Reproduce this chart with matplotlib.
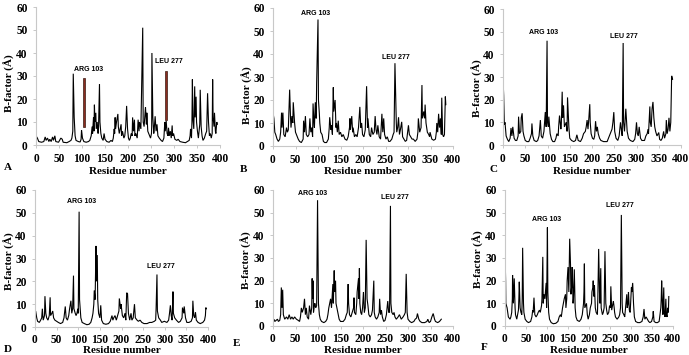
import matplotlib
matplotlib.use("Agg")
import matplotlib.pyplot as plt

# ---------------- data (residue number, B-factor) ----------------
xA = [0,3,6,12,17,20,22,25,28,30,33,36,38,41,43,49,54,57,59,67,72,76,78,80,81,83,85,87,92,96,98,99,101,104,109,114,117,120,122,123,125,126,127,128,130,131,133,135,136,138,139,141,143,146,148,150,154,159,163,166,168,170,171,172,173,175,178,179,181,183,185,186,188,191,193,195,197,199,201,203,205,207,209,210,212,214,215,217,220,222,224,225,228,232,233,235,238,240,241,243,245,247,249,251,251.5,252,254,256,257,259,261,263,265,268,272,275,278,280,281,283,285,287,288,290,292,294,296,297,299,302,306,309,313,319,325,329,333,335,336,338,339,340,341,343,345,346,348,349,351,353,356,357,359,361,363,366,369,371,373,375,377,379,381,383,384,385,387,388,390,391,393,394]
yA = [4,3,1.5,1.2,1.5,3.5,2,3,1.5,2.5,1.5,3.5,2,4,1.5,1.2,3,2.5,1.2,1,1.5,2,3,6,31,12,4,2,1.5,1.3,2.5,6.5,3,1.5,1.2,1.5,2,4,8,5,12,6,17.5,10,14,7,10,5,8,26.5,10,5,3,2,5,2.5,1.5,1.2,2,1.5,3,7,5,12,7,10,13.5,8,5,7,9,4,6,3,4,8,17,7,3,2,3,5,4,12,6,11,4,5,3,11,6,10,7,51,10,8,16.5,9,14,6,5,4,3,5,8,40,12,5,7,12.5,6,9,4,3,2,1.5,3,10,6,10.5,5,4,7.5,4,6,3,8.5,4,5,2.5,2,2.5,1.5,1.2,1,1.5,2,4,7,3,10,28.5,12,7,25.5,12,21,10,6,3,9,24,8,4,2,3,5,6,22.5,10,4,5,3,5,28.5,12,8,14,6,5,10,9]

xB = [0,2,4,6,9,12,15,17,19,20,22,24,27,30,32,34,37,39,40,42,44,45,48,50,52,56,59,63,67,68,70,72,74,77,80,82,84,86,88,89,91,92,94,96,97,100,101,103,104,106,109,112,115,119,123,125,126,129,130,132,134,135,138,140,141,143,145,147,150,153,156,160,164,167,170,171,172,175,177,178,181,184,187,190,193,195,197,199,202,205,208,210,211,214,217,219,222,225,227,229,231,233,236,239,242,244,246,248,251,254,257,260,264,267,269,271,274,275,277,279,281,283,286,288,291,294,297,301,303,306,309,312,316,320,322,323,326,329,331,332,335,337,338,340,343,346,348,349,353,357,361,363,364,366,368,370,372,374,375,377,379,381,383,384]
yB = [14.5,12,6,5,3,2,3,6,14.5,8,14.5,5,4,8,6,7,24.5,12,8,13,10,19,10,6,5,3,2,1.5,3,11,6,13,5,4,5,12,6,8,4,18.5,10,8,19,12,27.5,55,20,14,10,6,5,2,1.5,1.5,3,8,12.5,7,9,5,25.5,15,20,8,10,6,11,5,6,4,5,3,2.5,4,8,12,7,13,6,8,4,5,4,8,17,8,10,5,4,7,26,8,12,5,4,8,5,6,13,7,5,9,4,3,14,6,12,5,3,4,2,2,3,5,6,36,10,6,8,12.5,5,7,10.5,4,3,2,2.5,9,5,4,3,3,2,3,6,12,6,8,26.5,12,15,12,18,10,6,5,4,6,3,2.5,3,6,10,6,14,8,12,5,21,5,4,5,21.5,18]

xC = [0,1.5,3,4.5,7,10,13,16,18,20,22,25,28,31,34,35,37,40,41,43,45,47,50,54,58,61,64,65,67,70,75,78,81,84,86,89,92,95,97,99,100,102,103,106,109,112,116,119,121,124,125,127,130,131,133,134,136,138,140,142,144,145,148,150,154,159,163,166,169,174,178,181,185,187,189,191,193,195,196,198,201,204,206,208,210,212,214,217,220,226,234,237,241,245,247,249,251,254,258,261,264,267,268,270,271,273,276,279,282,286,292,296,298,300,302,304,306,309,312,318,321,324,326,327,330,331,333,335,337,339,341,343,346,350,352,355,358,361,363,366,367,369,371,373,375,377,379,381]
yC = [29.5,22,9,10,4,2.5,1.5,3,7.5,4,8,3,2,2,4,12.5,5,6,12,14,6,4,2,1.5,1.5,3,5,9.5,4,2,1.5,2,4,11,4,3,6,14.5,8,46,10,8,12.5,5,2.5,1.5,1.5,3,5,4,8,13,7,9,23.5,12,17.5,8,9,10,6,21,8,3,2,1.5,2,4.5,2,1.5,3,5,6,8,11,7,12,18,10,5,3,2.5,4,10.5,6,8,5,3,2,1.5,1.5,3,5,7,10,14.5,6,3,2,4,10,5,4,45,10,6,16,6,3,2,1.5,2.5,5,10,5,4,8,3,2,2,4,5,7,5,17,10,8,16,19,12,8,6,4,5.5,2.5,2,3,6,3,5,11,5,7,12,6,10,30.5,29]

xD = [0,1.5,4,6,10,13,15.5,17,19,22,23,25,27,30,33,35,36,39,41,43,46,50,54,59,64,67,70,72,75,78,80,83,85,87,89,90,93,95,97,99,100,102,103,106,109,114,120,125,129,132,134,136,137,139,141,142,144,145,147,150,152,154,158,164,170,174,178,180,182,185,188,191,194,195,198,199,202,205,208,210,212,214,216,219,222,224,227,230,232,236,239,243,247,252,259,265,270,276,279,280,282,283,286,290,293,299,305,309,311,313,315,317,319,320,323,327,332,336,340,341,344,345,348,351,356,361,364,365,367,369,371,373,377,382,388,392,394,395,396]
yD = [5,7,4,2.5,2,3,4,8,3,5,13.5,6,4,3,5,13,5,6,7,4,3,2.5,2,1.5,2,4,9,4,3,5,8,11.5,6,8,22.5,8,6,5,6,8,6,50.5,12,4,2,1.5,1,1.2,2,4,6,10,16,12,35.5,20,31.5,12,6,4,9.5,3,1.5,1.2,1.5,2.5,5,3,4,5,3,5,7,12.5,8,10,5,4,6,3,15,14.5,6,3,6,3,4,10,4,3,2.5,3,2,1.5,1.5,2,2,2.5,3,8,23,7,4,3,2,2.5,2,3,6,9.5,5,3,15.5,6,4,3,2,2.5,4,8.5,6,9,4,2,2,2.5,4,11.5,5,4,6.5,3,2,1.5,2,3,5,8.5,8]

xE = [0,2,4,7,10,12,15,17,18.5,20,21.5,23,26,30,33,36,39,42,45,48,52,56,59,61,63,65,68,70,72,74,76,79,80,81,84,86,87,88,89,90,92,93,95,97,99,101,103,105,108,113,117,120,122,124,126,128,130,133,134,136,137,139,140,142,144,147,150,156,160,163,165,167,168,170,173,176,179,180,181,184,186,187,190,191,192,193,195,197,199,201,203,205,207,209,211,213,216,219,221,224,225,227,230,233,236,237,239,241,243,246,249,252,255,257,259,261,262,264,267,269,271,274,278,281,285,289,292,294,296,298,300,304,308,313,316,319,321,324,327,331,337,342,344,347,350,353,355,356,359,361,366,370,374]
yE = [2,3,2,2.5,3,2,2.5,5,17,8,16,5,3,4,3,5,3,4,3,4,3,2.5,2,4,8,6,8,12,5,8,4,3,6,9,5,8,21,12,20,6,9,10,8,9,55.5,10,5,3,2,1.5,2,3,5,8,10,12,8,18.5,10,24.5,15,20,10,8,6,3,2,2,3,5,6,18.5,10,5,4,6,8,12.5,6,5,10,15,21,12,25.5,10,6,5,8,15,6,8,38,12,9,5,4,5,7,20,6,4,3,4,6,12,5,7,4,2,2.5,5,11,6,6,53,10,6,5,6,4,3,4,5,3,4,5,6,23,6,3,2,1.5,2,3,3.5,5.5,3,2,1.5,1.5,2,3,1.5,2,4,5,5.5,3,2,1.5,2,3]

xF = [0,1.5,2,5,8,12,14,16,17.5,18,20,21,22,24,25,28,30,32,33,34,36,38,40,41,42,44,45,48,52,56,61,64,66,67,69,71,74,77,79,82,84,87,88,90,91,93,95,97,98,99,101,102,104,106,110,115,121,126,129,132,134,137,139,141,144,145,147,148,150,152,153,154,156,157,159,160,162,163,165,167,169,172,177,181,184,187,188,189,190,194,196,198,201,203,206,207,209,210,212,213,215,217,220,221,223,225,226,228,229,232,234,236,238,240,242,244,247,249,251,252,254,256,258,260,261,263,267,271,273,275,277,279,280,283,285,287,290,291,293,294,296,298,299,301,302,304,306,308,311,316,321,326,329,331,333,336,339,342,345,349,352,353,355,359,363,367,369,371,372,373,375,376,378,379,381,383,384,386,387,389,390]
yF = [33,20,10,8,4,3,4,6,12,22.5,10,15,21,8,5,3,5,7,12,19.5,8,6,5,12,34.5,10,6,3,2,1.5,2,4,7,6,12.5,5,4,5,6,7,6,9,12,30.5,10,14,12,17,19,8,43.5,15,6,3,1.5,1,1.2,2,4,5,4,8,10,12,14,8,12,20,26,15,26.5,38.5,27,14,18,26,10,12,25,8,4,2.5,2,3,5,10,15,27.5,8,10,5,3,5,8,10,15,17,20,13,18,8,6,5,12,34,15,10,25.5,8,5,6,8,33,10,7,5,6,9,8,17.5,7,9,11,8,6,4,3,4,5,8,49,10,6,5,4,8,14,8,10,15,7,6,10,17,15,19,10,4,2,1.5,1.5,2,4,7.5,3,4,3,2,1.5,2,4,6.5,2,1.5,1.5,2,5,8,12,20,8,5,17,6,4,12,5,4,8,6,13]

# annotation labels and marker bars
ann_text = ["ARG 103", "LEU 277"]
ann_A = [(114, 31.5), (288, 34.7)]
ann_B = [(95, 56.0), (274, 37.0)]
ann_C = [(91, 48.0), (271, 46.5)]
ann_D = [(108, 53.6), (290, 25.0)]
ann_E = [(87, 56.8), (270, 55.0)]
ann_F = [(98, 45.6), (274, 51.5)]
barA_x = [104, 283]
barA_bottom = [8, 11]
barA_top = [29, 32]

letters = ["A", "B", "C", "D", "E", "F"]
xticks = [0, 50, 100, 150, 200, 250, 300, 350, 400]
yticks = [0, 10, 20, 30, 40, 50, 60]

# ---------------- layout ----------------
W, H = 689, 355
fig = plt.figure(figsize=(W / 100, H / 100), dpi=100)
fig.patch.set_facecolor("white")

SERIF = ["Liberation Serif", "DejaVu Serif"]
SANS = ["Liberation Sans", "DejaVu Sans"]

# (left, right, top, bottom) in pixels; ylabel (x,y); xlabel y; letter (x,y); x tick pad
panels = [
    (xA, yA, ann_A, (36, 220, 7, 145), (9, 83), 171, (8, 168), 3.5),
    (xB, yB, ann_B, (273, 453, 8, 146), (247, 95), 171, (243, 169), 3.5),
    (xC, yC, ann_C, (503, 681, 9, 145), (477, 88), 171, (493, 169), 3.5),
    (xD, yD, ann_D, (35, 208, 190, 327), (9, 261), 350.5, (8, 349), 2.3),
    (xE, yE, ann_E, (273, 453, 190, 326), (246, 260), 350.5, (237, 344), 2.8),
    (xF, yF, ann_F, (505, 673, 190, 326), (478, 259), 350.5, (484, 348), 2.8),
]

for i, (xs, ys, ann, (l, r, t, b), ylpos, xly, lpos, xpad) in enumerate(panels):
    ax = fig.add_axes([l / W, 1 - b / H, (r - l) / W, (b - t) / H])
    ax.plot(xs, ys, color="black", lw=0.8, solid_joinstyle="miter")
    ax.set_xlim(0, 400)
    ax.set_ylim(0, 60)
    ax.set_xticks(xticks)
    ax.set_yticks(yticks)
    for s in ["top", "right"]:
        ax.spines[s].set_visible(False)
    for s in ["left", "bottom"]:
        ax.spines[s].set_color("#c8c8c8")
        ax.spines[s].set_linewidth(0.8)
    ax.tick_params(axis="both", direction="out", length=2.5, width=0.7,
                   color="#c8c8c8", labelsize=8.3)
    ax.tick_params(axis="x", pad=xpad)
    ax.tick_params(axis="y", pad=3.5)
    for lab in ax.get_xticklabels() + ax.get_yticklabels():
        lab.set_fontfamily(SERIF)
        lab.set_fontweight("bold")
    ax.set_facecolor("none")
    for (tx, ty), txt in zip(ann, ann_text):
        ax.text(tx, ty, txt, ha="center", va="bottom", fontsize=5,
                fontweight="bold", family=SANS)
    if i == 0:
        ax.bar(barA_x, [tp - bt for tp, bt in zip(barA_top, barA_bottom)],
               bottom=barA_bottom, width=5, color="#8b2c20",
               edgecolor="#3a1a12", linewidth=0.5, zorder=3)
    cx = (l + r) / 2
    fig.text(cx / W, 1 - xly / H, "Residue number", ha="center", va="center",
             fontsize=8, fontweight="bold", family=SERIF)
    fig.text(ylpos[0] / W, 1 - ylpos[1] / H, "B-factor (Å)", ha="center",
             va="center", rotation=90, fontsize=8, fontweight="bold",
             family=SERIF)
    fig.text(lpos[0] / W, 1 - lpos[1] / H, letters[i], ha="center",
             va="center", fontsize=8, fontweight="bold", family=SERIF)

fig.savefig("out.png", dpi=100, facecolor="white")
